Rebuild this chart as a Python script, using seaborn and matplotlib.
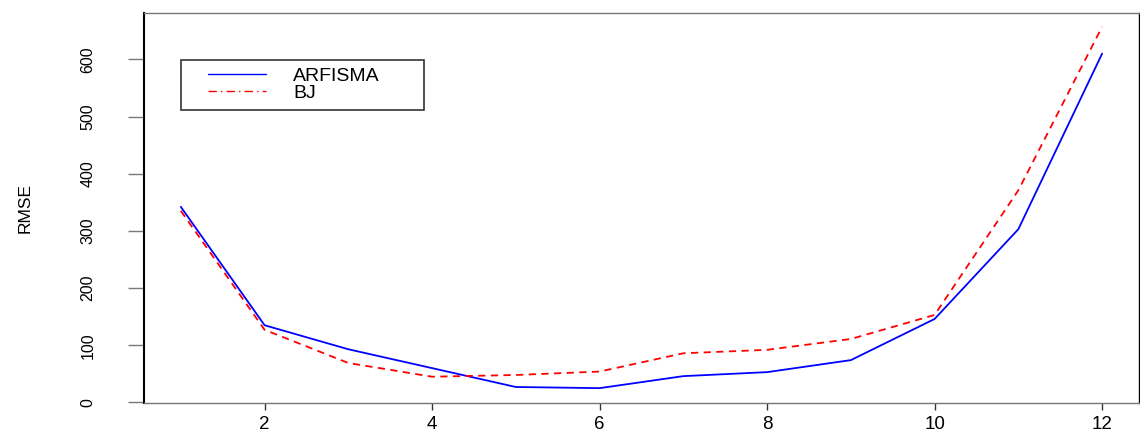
import matplotlib
matplotlib.use("Agg")
import matplotlib.pyplot as plt
import seaborn as sns
import pandas as pd
from matplotlib.lines import Line2D
from matplotlib.legend_handler import HandlerLine2D

horizon = [1, 2, 3, 4, 5, 6, 7, 8, 9, 10, 11, 12]
arfisma = [342, 135, 93, 60, 27, 25, 46, 53, 74, 146, 303, 610]
bj = [335, 127, 69, 45, 48, 54, 86, 92, 111, 153, 371, 657]
series_names = ["ARFISMA", "BJ"]
x_ticks = [2, 4, 6, 8, 10, 12]
y_ticks = [0, 100, 200, 300, 400, 500, 600]

sns.set_style("white")
plt.rcParams['font.family'] = ['Liberation Sans', 'DejaVu Sans']

df = pd.DataFrame({
    "h": horizon * 2,
    "RMSE": arfisma + bj,
    "model": [series_names[0]] * len(horizon) + [series_names[1]] * len(horizon),
})

fig = plt.figure(figsize=(11.4, 4.34), dpi=100)
ax = fig.add_axes([0.1263, 0.0714, 0.8728, 0.8986])
sns.lineplot(data=df, x="h", y="RMSE", hue="model", style="model",
             palette={"ARFISMA": "#0000ff", "BJ": "#ff0000"},
             dashes={"ARFISMA": "", "BJ": (4, 3)}, linewidth=1.3,
             legend=False, ax=ax)

ax.set_xlim(0.56, 12.44)
ax.set_ylim(-1, 681)
ax.set_xticks(x_ticks)
ax.set_xticklabels([str(t) for t in x_ticks], fontsize=13.5, color="black")
ax.set_yticks(y_ticks)
ax.set_yticklabels([str(t) for t in y_ticks], rotation=90, va="center",
                   fontsize=11.5, color="black")
ax.set_xlabel("")
ax.set_ylabel("RMSE", fontsize=12.5, color="black")
ax.yaxis.set_label_coords(-0.1116, 0.5)
ax.tick_params(axis="x", direction="out", length=5, width=1, color="#333333",
               bottom=True, pad=4)
ax.tick_params(axis="y", direction="out", length=11.5, width=1, color="#777777",
               left=True, pad=23.5)
for s in ax.spines.values():
    s.set_color("#777777")
    s.set_linewidth(1)
ax.spines["left"].set_color("black")
ax.spines["left"].set_linewidth(1.5)
ax.spines["right"].set_color("black")
ax.grid(False)

handles = [Line2D([], [], color="#0000ff", lw=1),
           Line2D([], [], color="#ff0000", lw=1, ls=(0, (6, 3, 1, 3)))]
leg = ax.legend(handles, series_names, loc="upper left",
                bbox_to_anchor=(0.0372, 0.3, 0.244, 0.5795), mode="expand",
                fontsize=14, frameon=True, fancybox=False, handlelength=4.0,
                handletextpad=1.4, borderpad=0.38, labelspacing=-0.02,
                borderaxespad=0,
                handler_map={Line2D: HandlerLine2D(xpad=1.0)})
leg.get_frame().set_edgecolor("black")
leg.get_frame().set_linewidth(1.2)
for t in leg.get_texts():
    t.set_color("black")

fig.savefig("out.png", dpi=100)
